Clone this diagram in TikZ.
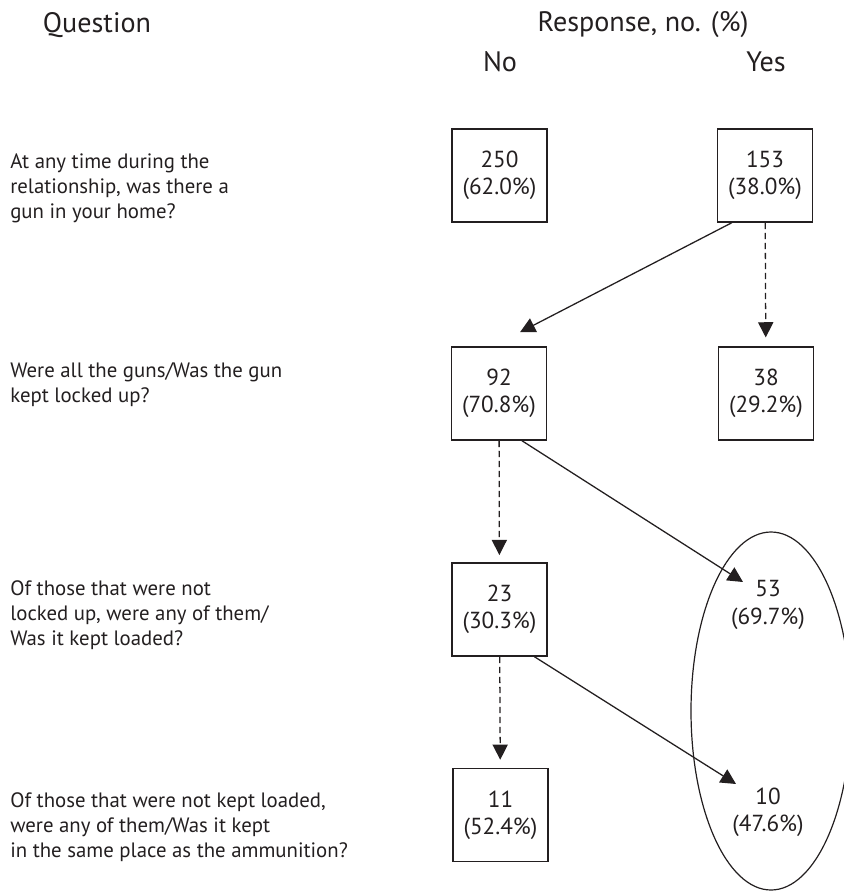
\documentclass[tikz,border=0pt]{standalone}
\usepackage{fontspec}
\setmainfont{PT Sans}
\usetikzlibrary{arrows.meta,calc}
\definecolor{inkgray}{HTML}{231F20}
\begin{document}
\begin{tikzpicture}[x=0.25mm, y=-0.25mm,
		every node/.style={text=inkgray, font=\fontsize{16.5}{19.5}\selectfont},
		head/.style={font=\fontsize{20}{24}\selectfont},
		resp/.style={draw=inkgray, line width=0.38mm, minimum width=23.75mm, minimum height=23.25mm, align=center, inner sep=0pt},
		free/.style={align=center, inner sep=0pt},
		quest/.style={align=left, anchor=west, inner sep=0pt, font=\fontsize{14.8}{17.8}\selectfont},
		solidarr/.style={draw=inkgray, line width=0.32mm, -{Triangle[length=3.8mm,width=3.8mm]}},
		dasharr/.style={solidarr, dash pattern=on 1.6mm off 0.9mm}]
		\useasboundingbox (0,0) rectangle (843,893);
		% headings
		\node[head] (qhead) at (97,25) {Question};
		\node[head] (rhead) at (643,25) {Response, no. (\%)};
		\node[head] (nohead) at (500,62) {No};
		\node[head] (yeshead) at (766,62) {Yes};
		% questions
		\node[quest] (q1) at (10,188) {At any time during the\\relationship, was there a\\gun in your home?};
		\node[quest] (q2) at (10,385) {Were all the guns/Was the gun\\kept locked up?};
		\node[quest] (q3) at (10,615) {Of those that were not\\locked up, were any of them/\\Was it kept loaded?};
		\node[quest] (q4) at (10,827) {Of those that were not kept loaded,\\were any of them/Was it kept\\in the same place as the ammunition?};
		% responses
		\node[resp] (no1) at (499.5,175.5) {250\\(62.0\%)};
		\node[resp] (yes1) at (765,175.5) {153\\(38.0\%)};
		\node[resp] (no2) at (499,393.5) {92\\(70.8\%)};
		\node[resp] (yes2) at (766,393.5) {38\\(29.2\%)};
		\node[resp] (no3) at (499.5,609.5) {23\\(30.3\%)};
		\node[free] (yes3) at (768,605) {53\\(69.7\%)};
		\node[resp] (no4) at (500.5,815) {11\\(52.4\%)};
		\node[free] (yes4) at (768,812) {10\\(47.6\%)};
		% arrows
		\draw[solidarr] ($(yes1.south west)+(15,0)$) -- ($(no2.north)+(21,-14)$);
		\draw[dasharr, shorten >=2.2mm] (yes1) -- (yes2);
		\draw[dasharr, shorten >=1.8mm] (no2) -- (no3);
		\draw[solidarr] ($(no2.south)+(23,0)$) -- ($(yes3.center)+(-25,-23)$);
		\draw[dasharr, shorten >=2mm] (no3) -- (no4);
		\draw[solidarr] ($(no3.south)+(35,0)$) -- ($(yes4.center)+(-32,-28)$);
		% ellipse round the yes answers
		\draw[inkgray, line width=0.3mm] (771,711) ellipse [x radius=80, y radius=179];
	\end{tikzpicture}
\end{document}
